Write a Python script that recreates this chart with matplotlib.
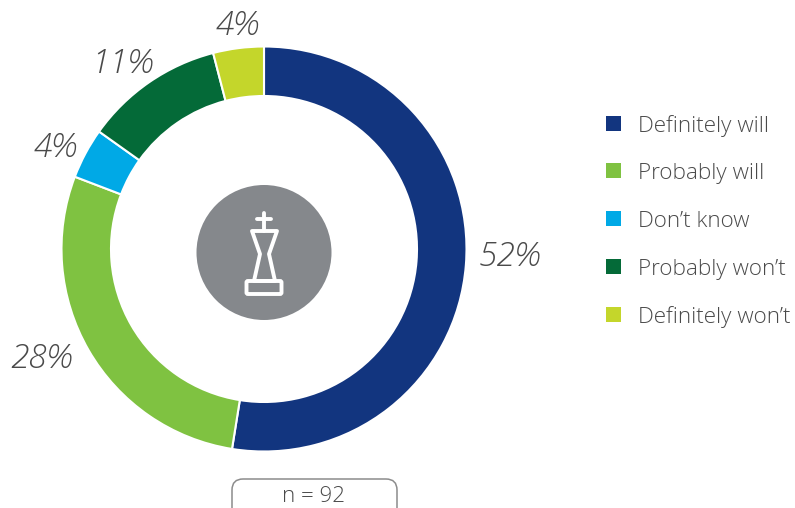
import matplotlib
matplotlib.use("Agg")
import matplotlib.pyplot as plt
from matplotlib.patches import Circle, FancyBboxPatch, Polygon, Rectangle

categories = ["Definitely will", "Probably will", "Don\u2019t know", "Probably won\u2019t", "Definitely won\u2019t"]
values = [52, 28, 4, 11, 4]
colors = ["#12357F", "#7FC241", "#00A9E6", "#046A38", "#C4D62B"]
label_pos = [(509.5, 257), (41.5, 359), (55.5, 148), (122, 64), (237, 26)]
legend_y = [123.5, 170.5, 218.5, 266.5, 314.5]

H = 508
plt.rcParams["font.family"] = ["Open Sans", "DejaVu Sans"]
text_col = "#4a4a4a"

fig = plt.figure(figsize=(7.95, 5.08), dpi=100)
ax = fig.add_axes([0, 0, 1, 1])

# donut, sized in pixels
ax.pie(values, colors=colors, startangle=90, counterclock=False,
       center=(264, H - 249), radius=202.5,
       wedgeprops=dict(width=49.5, edgecolor="white", linewidth=1.5))
ax.set_xlim(0, 795); ax.set_ylim(0, H); ax.set_aspect("equal")
ax.axis("off")

for v, (x, y) in zip(values, label_pos):
    ax.text(x, H - y, f"{v}%", fontsize=24, style="italic", fontweight="light",
            color=text_col, ha="center", va="center")

# legend
for name, c, y in zip(categories, colors, legend_y):
    ax.add_patch(Rectangle((606, H - y - 7.5), 15, 15, color=c, lw=0))
    ax.text(638, H - y - 8.5, name, fontsize=16.2, fontweight="light", color=text_col,
            ha="left", va="baseline")

# centre icon
ax.add_patch(Circle((264, H - 252.5), 67.5, color="#85888C", lw=0))
w = dict(color="white", lw=2.8, solid_capstyle="round", solid_joinstyle="round")
ax.plot([264, 264], [H - 213, H - 231], **w)
ax.plot([257, 271], [H - 219, H - 219], **w)
ax.add_patch(Polygon([(252, H - 231), (277, H - 231), (269, H - 254), (275, H - 281),
                      (254, H - 281), (260, H - 254)], closed=True, fill=False,
                     edgecolor="white", lw=2.8, joinstyle="round"))
ax.add_patch(FancyBboxPatch((246.5, H - 294), 35, 13, boxstyle="round,pad=0,rounding_size=1.5",
                            fill=False, edgecolor="white", lw=2.8))

# sample size box, runs off the bottom of the picture
ax.add_patch(FancyBboxPatch((232, H - 530), 165, 51, boxstyle="round,pad=0,rounding_size=11",
                            fill=False, edgecolor="#8c8c8c", lw=1.1))
ax.text(313, H - 496, "n = 92", fontsize=16, fontweight="light", color=text_col,
        ha="center", va="center")

fig.savefig("out.png", dpi=100)
